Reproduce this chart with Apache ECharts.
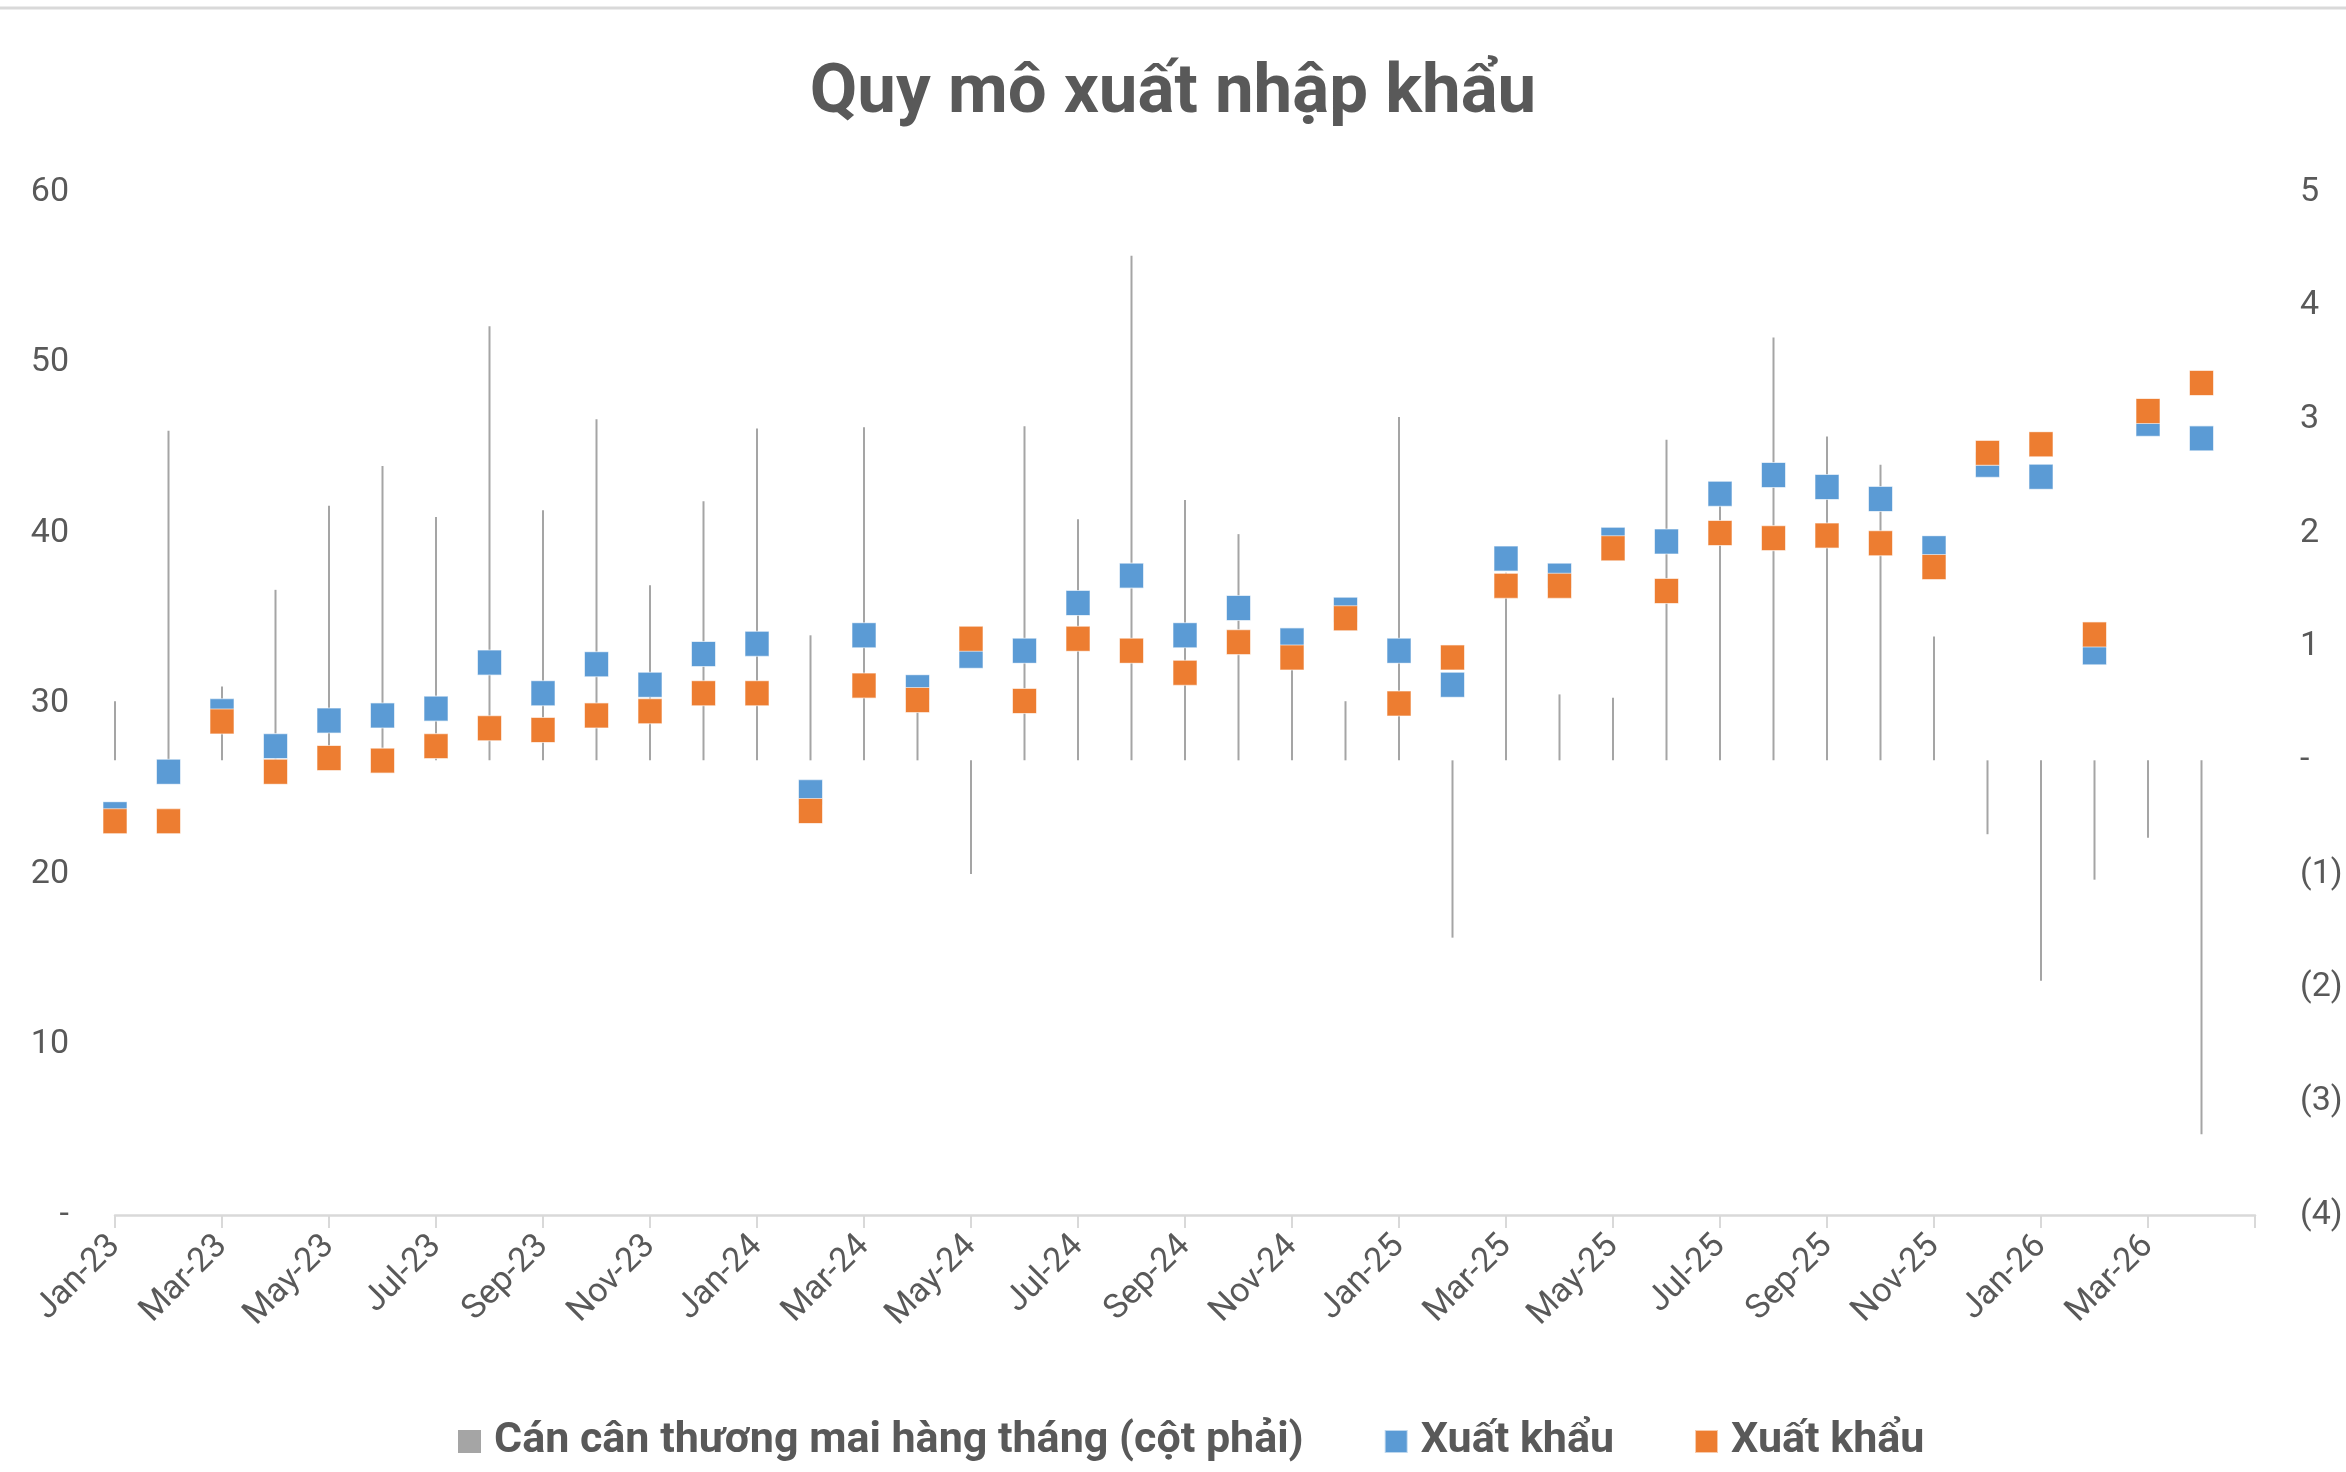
<!DOCTYPE html>
<html>
<head>
<meta charset="utf-8">
<script src="https://cdn.jsdelivr.net/npm/echarts@6/dist/echarts.min.js"></script>
<style>
  html, body { margin: 0; padding: 0; background: #fff; }
  #chart { width: 2346px; height: 1472px; }
</style>
</head>
<body>
<div id="chart"></div>
<script>
// Month categories (the last one only closes the axis, as in the original)
var months = ['Jan-23','Feb-23','Mar-23','Apr-23','May-23','Jun-23','Jul-23','Aug-23','Sep-23','Oct-23','Nov-23','Dec-23',
              'Jan-24','Feb-24','Mar-24','Apr-24','May-24','Jun-24','Jul-24','Aug-24','Sep-24','Oct-24','Nov-24','Dec-24',
              'Jan-25','Feb-25','Mar-25','Apr-25','May-25','Jun-25','Jul-25','Aug-25','Sep-25','Oct-25','Nov-25','Dec-25',
              'Jan-26','Feb-26','Mar-26','Apr-26','May-26'];

// Monthly trade balance (right axis)
var balance = [0.52, 2.90, 0.65, 1.50, 2.24, 2.59, 2.14, 3.82, 2.20, 3.00, 1.54, 2.28,
               2.92, 1.10, 2.93, 0.74, -1.00, 2.94, 2.12, 4.44, 2.29, 1.99, 1.05, 0.52,
               3.02, -1.56, 1.65, 0.58, 0.55, 2.82, 2.27, 3.72, 2.85, 2.60, 1.09, -0.65,
               -1.94, -1.05, -0.68, -3.29];

// Blue series (left axis)
var seriesBlue = [23.5, 26.0, 29.55, 27.5, 29.0, 29.3, 29.7, 32.4, 30.6, 32.3, 31.1, 32.9,
                  33.5, 24.8, 34.0, 30.95, 32.8, 33.1, 35.9, 37.5, 34.0, 35.6, 33.7, 35.5,
                  33.1, 31.1, 38.5, 37.5, 39.6, 39.5, 42.3, 43.4, 42.7, 42.0, 39.1, 44.0,
                  43.3, 33.0, 46.4, 45.55];

// Orange series (left axis)
var seriesOrange = [23.1, 23.1, 28.95, 26.0, 26.8, 26.65, 27.5, 28.55, 28.45, 29.3, 29.55, 30.6,
                    30.6, 23.7, 31.05, 30.2, 33.8, 30.15, 33.8, 33.1, 31.8, 33.6, 32.7, 35.0,
                    30.0, 32.7, 36.9, 36.9, 39.1, 36.6, 40.0, 39.7, 39.85, 39.4, 38.0, 44.7,
                    45.2, 34.05, 47.15, 48.8];

var names = ['Cán cân thương mai hàng tháng (cột phải)', 'Xuất khẩu', 'Xuất khẩu '];
var titleText = 'Quy mô xuất nhập khẩu';

var textColor = '#595959';
var lineGrey = '#d9d9d9';
var fontLabel = 'Roboto, "Liberation Sans", sans-serif';

var chart = echarts.init(document.getElementById('chart'), null, { renderer: 'canvas' });

chart.setOption({
  backgroundColor: '#ffffff',
  animation: false,
  graphic: [{
    type: 'line',
    shape: { x1: 0, y1: 8, x2: 2346, y2: 8 },
    style: { stroke: lineGrey, lineWidth: 3 }
  }],
  title: {
    text: titleText,
    left: 'center',
    top: 55,
    textStyle: { color: textColor, fontSize: 69, fontWeight: 'bold', fontFamily: fontLabel }
  },
  legend: {
    bottom: 4,
    left: 453,
    itemWidth: 23,
    itemHeight: 23,
    itemGap: 80,
    icon: 'rect',
    textStyle: { color: textColor, fontSize: 43, fontWeight: 'bold', fontFamily: fontLabel, padding: [0, 0, 0, 8] },
    formatter: function (n) { return n.trim(); },
    data: names
  },
  grid: { left: 115, right: 91, top: 192, bottom: 257, containLabel: false },
  xAxis: {
    type: 'category',
    data: months,
    boundaryGap: false,
    axisLine: { show: true, lineStyle: { color: lineGrey, width: 2.5 } },
    axisTick: { show: true, interval: 1, length: 13, lineStyle: { color: lineGrey, width: 2 } },
    axisLabel: {
      interval: 1,
      rotate: 45,
      margin: 26,
      color: textColor,
      fontSize: 34,
      fontFamily: fontLabel,
      formatter: function (v, i) { return i === months.length - 1 ? '' : v; }
    },
    splitLine: { show: false }
  },
  yAxis: [{
    type: 'value',
    min: 0, max: 60, interval: 10,
    position: 'left',
    axisLine: { show: false },
    axisTick: { show: false },
    splitLine: { show: false },
    axisLabel: {
      margin: 46,
      color: textColor,
      fontSize: 34,
      fontFamily: fontLabel,
      formatter: function (v) { return v === 0 ? '-' : String(v); }
    }
  }, {
    type: 'value',
    min: -4, max: 5, interval: 1,
    position: 'right',
    axisLine: { show: false },
    axisTick: { show: false },
    splitLine: { show: false },
    axisLabel: {
      margin: 45,
      color: textColor,
      fontSize: 34,
      fontFamily: fontLabel,
      formatter: function (v) { return v === 0 ? '-' : (v < 0 ? '(' + (-v) + ')' : String(v)); }
    }
  }],
  series: [{
    name: names[0],
    type: 'bar',
    yAxisIndex: 1,
    barWidth: 2,
    itemStyle: { color: '#a5a5a5' },
    z: 1,
    data: balance
  }, {
    name: names[1],
    type: 'scatter',
    yAxisIndex: 0,
    symbol: 'rect',
    symbolSize: [24, 25],
    itemStyle: { color: '#5b9bd5', borderColor: 'rgba(255,255,255,0.6)', borderWidth: 1, opacity: 1 },
    z: 3,
    data: seriesBlue
  }, {
    name: names[2],
    type: 'scatter',
    yAxisIndex: 0,
    symbol: 'rect',
    symbolSize: [24, 25],
    itemStyle: { color: '#ed7d31', borderColor: 'rgba(255,255,255,0.6)', borderWidth: 1, opacity: 1 },
    z: 4,
    data: seriesOrange
  }]
});
</script>
</body>
</html>
